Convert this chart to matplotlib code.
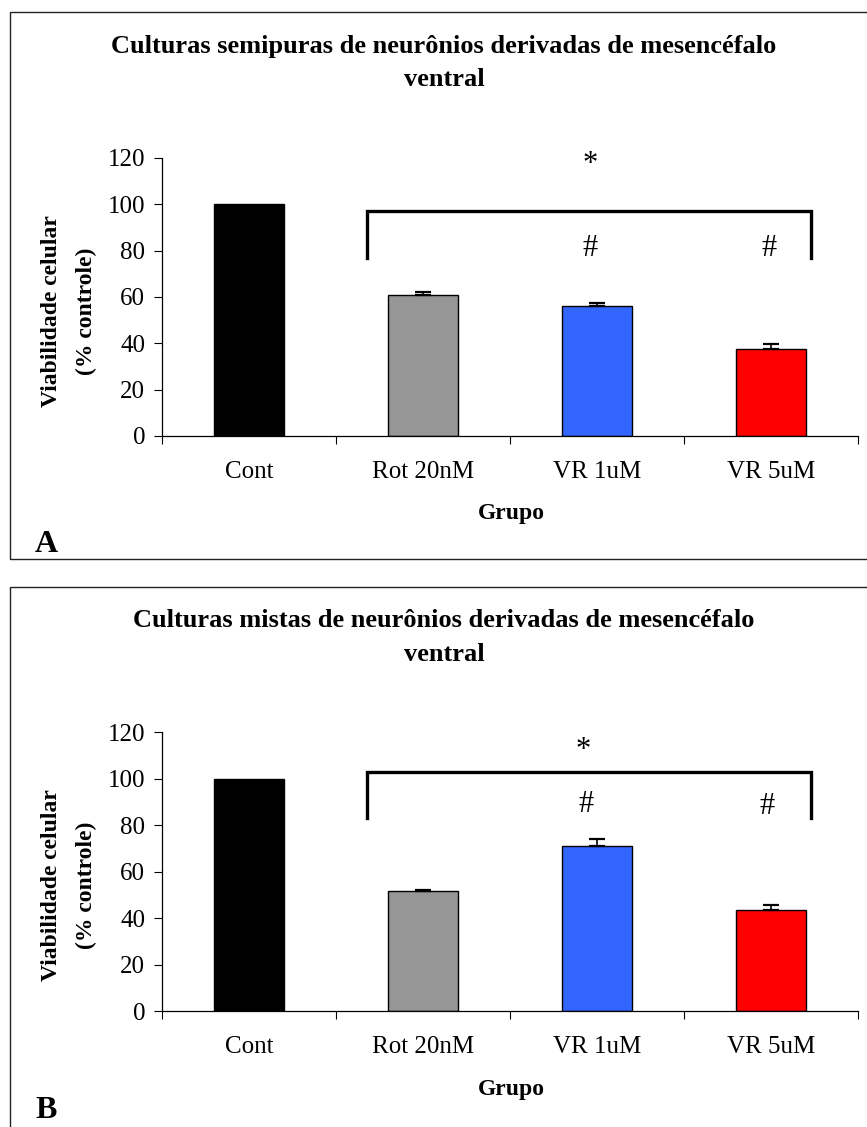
import numpy as np
import matplotlib
matplotlib.use('Agg')
import matplotlib.pyplot as plt
from matplotlib.patches import Rectangle

plt.rcParams['font.family'] = ['Liberation Serif', 'DejaVu Serif']

groups = ['Cont', 'Rot 20nM', 'VR 1uM', 'VR 5uM']
colors = ['#000000', '#969696', '#3366FF', '#FF0000']

# panel A: semipure cultures
vals_a = [100, 61.0, 56.2, 37.7]
err_a = [0, 1.0, 1.1, 2.0]
# panel B: mixed cultures
vals_b = [100, 51.7, 71.0, 43.4]
err_b = [0, 0.3, 3.0, 2.1]

title_a = 'Culturas semipuras de neurônios derivadas de mesencéfalo'
title_b = 'Culturas mistas de neurônios derivadas de mesencéfalo'

# significance marks: (x, y, text)
marks_a = [(1.96, 117.0, '*'), (1.96, 81.0, '#'), (2.99, 81.0, '#')]
marks_b = [(1.92, 112.0, '*'), (1.94, 88.7, '#'), (2.98, 88.0, '#')]
bracket_a = (0.68, 3.23, 97.0, 77.0)
bracket_b = (0.68, 3.23, 103.0, 83.0)

W, H = 867, 1127
fig = plt.figure(figsize=(W / 100, H / 100), dpi=100)


def fx(px):
    return px / W


def fy(py):
    return 1 - py / H


def panel(vals, errs, title, marks, bracket, letter, ax_top, ax_bot, frame_top, frame_bot, letter_y):
    ax = fig.add_axes([fx(162), fy(ax_bot), fx(858 - 162), (ax_bot - ax_top) / H])
    x = np.arange(len(groups))
    ax.bar(x, vals, width=0.40, color=colors, edgecolor='black', linewidth=1.0, zorder=2)
    for xi, v, e in zip(x, vals, errs):
        if e > 0:
            ax.errorbar(xi, v, yerr=[[0], [e]], fmt='none', ecolor='black',
                        elinewidth=1.2, capsize=6, capthick=1.6, zorder=3)
    ax.set_xlim(-0.5, 3.5)
    ax.set_ylim(0, 120)
    ax.set_yticks(np.arange(0, 121, 20))
    ax.set_xticks([-0.5, 0.5, 1.5, 2.5, 3.5])
    ax.set_xticklabels([])
    ax.set_xticks(x, minor=True)
    ax.set_xticklabels(groups, minor=True, fontsize=18)
    ax.tick_params(axis='x', which='major', direction='out', length=6, width=0.8)
    ax.tick_params(axis='x', which='minor', length=0, pad=18)
    ax.tick_params(axis='y', direction='out', length=6, width=0.8, pad=6, labelsize=18)
    for s in ['top', 'right']:
        ax.spines[s].set_visible(False)
    for s in ['left', 'bottom']:
        ax.spines[s].set_linewidth(0.9)
    ax.patch.set_alpha(0)

    # bracket
    x0, x1, ytop, ybot = bracket
    ax.plot([x0, x0, x1, x1], [ybot, ytop, ytop, ybot], color='black', lw=2.4,
            solid_joinstyle='miter', clip_on=False)
    for mx, my, t in marks:
        ax.text(mx, my, t, ha='center', va='center', fontsize=22)

    # titles and labels
    fig.text(fx(444), fy(ax_top - 112), title, ha='center', va='center',
             fontsize=19, fontweight='bold')
    fig.text(fx(444), fy(ax_top - 78), 'ventral', ha='center', va='center',
             fontsize=19, fontweight='bold')
    fig.text(fx(52), fy(ax_top + 153), 'Viabilidade celular', rotation=90,
             ha='center', va='center', fontsize=17, fontweight='bold')
    fig.text(fx(86), fy(ax_top + 153), '(% controle)', rotation=90,
             ha='center', va='center', fontsize=17, fontweight='bold')
    fig.text(fx(511), fy(ax_bot + 78), 'Grupo', ha='center', va='center',
             fontsize=17, fontweight='bold')
    fig.text(fx(46), fy(letter_y), letter, ha='center', va='center',
             fontsize=23, fontweight='bold')

    fig.patches.append(Rectangle((fx(10), fy(frame_bot)), fx(900), (frame_bot - frame_top) / H,
                                 transform=fig.transFigure, fill=False,
                                 edgecolor='#222222', linewidth=1.0, clip_on=False))
    return ax


panel(vals_a, err_a, title_a, marks_a, bracket_a, 'A', 158, 436, 12, 559, 545)
panel(vals_b, err_b, title_b, marks_b, bracket_b, 'B', 732.3, 1011, 587, 1140, 1110)

fig.savefig('out.png', dpi=100)
